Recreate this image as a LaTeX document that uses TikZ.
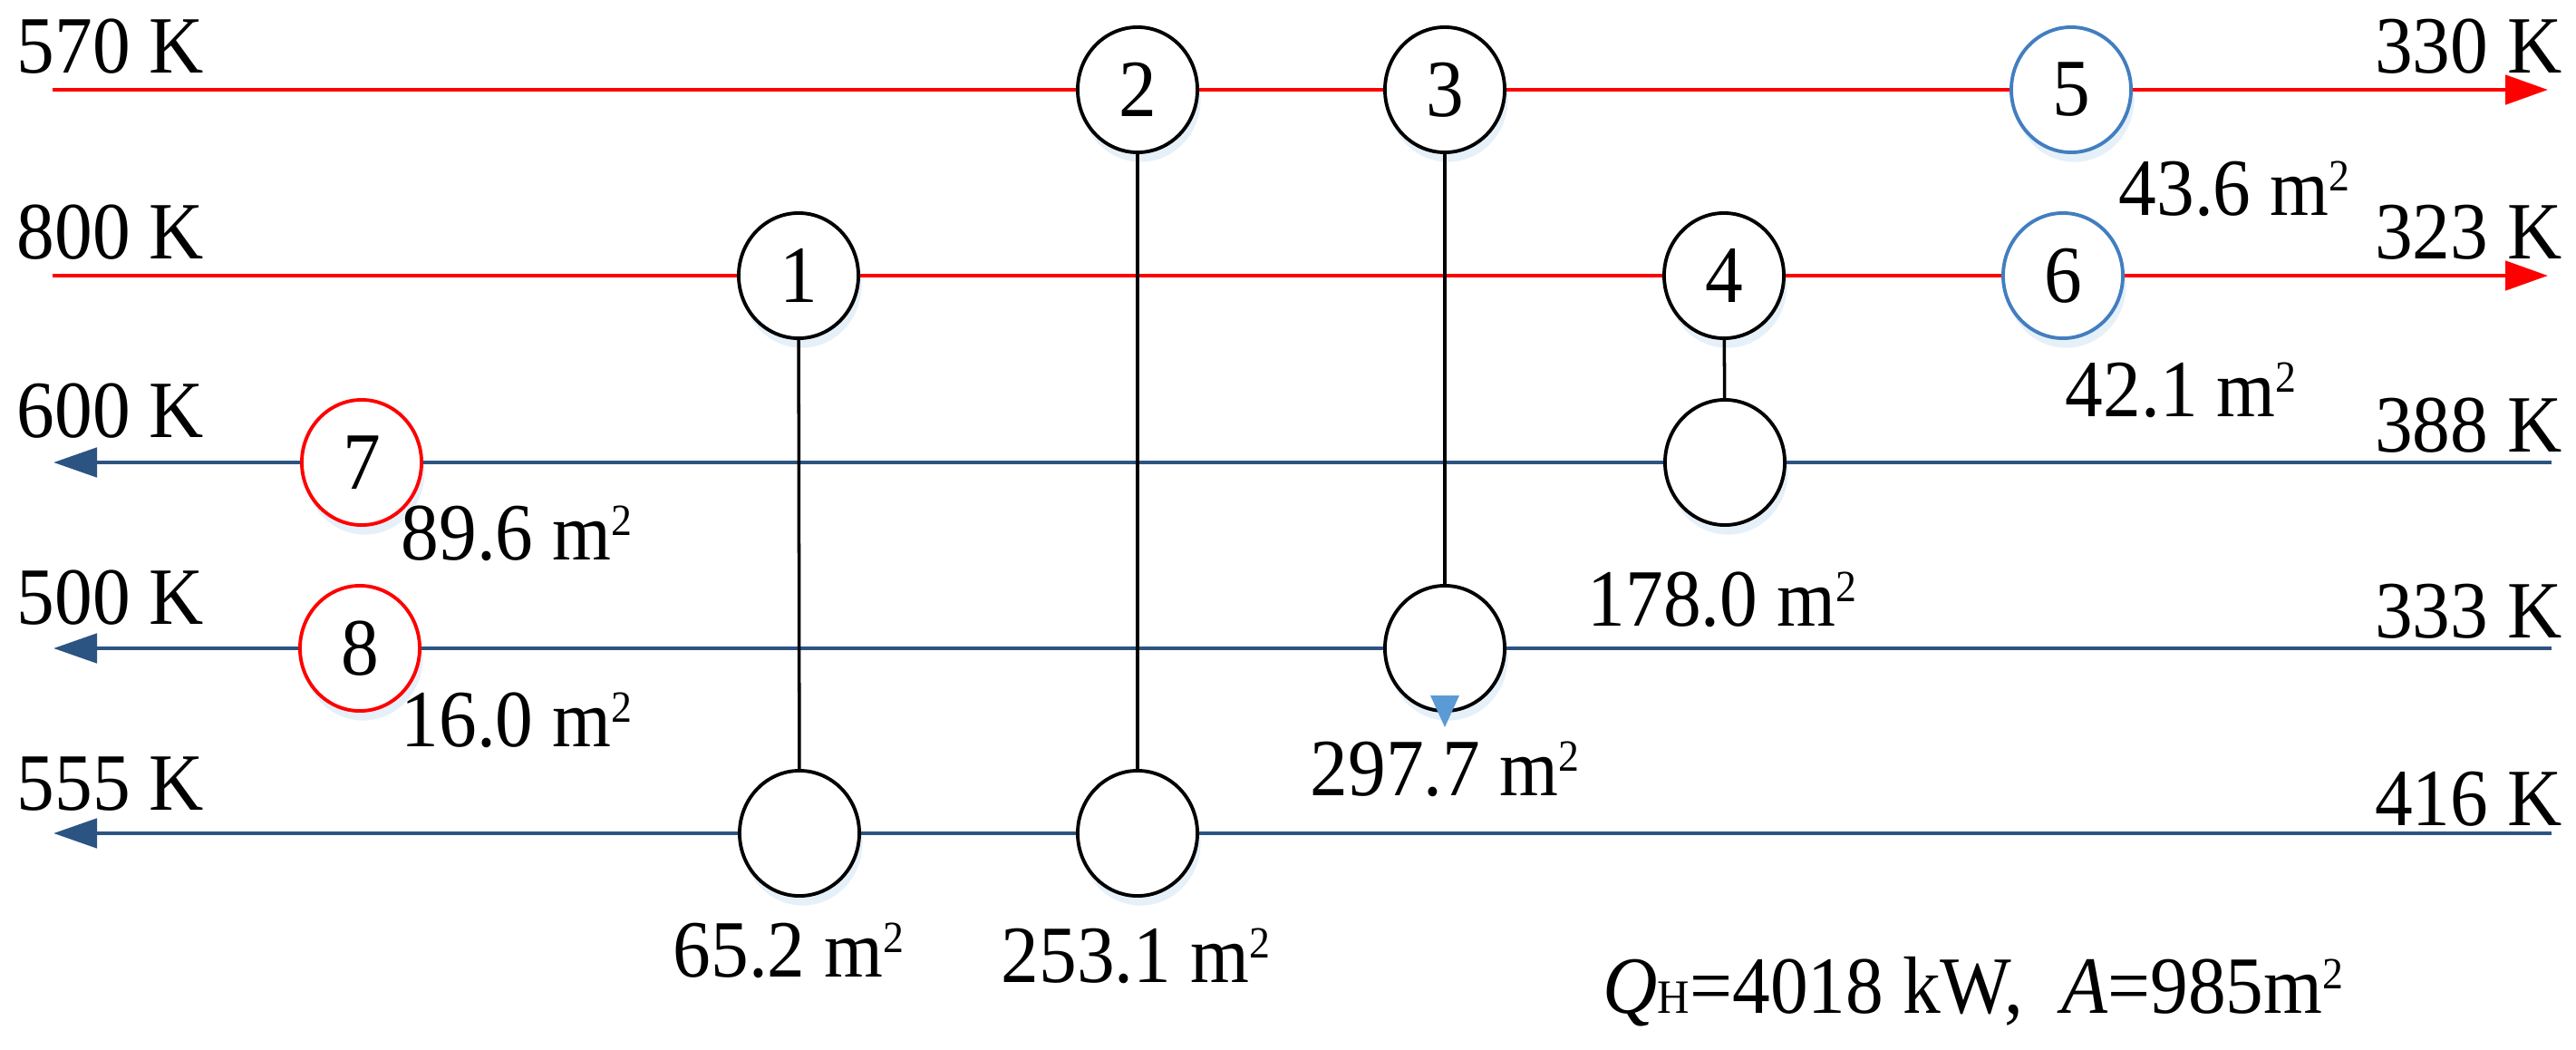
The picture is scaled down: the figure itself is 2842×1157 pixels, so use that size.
\documentclass[tikz,border=0pt]{standalone}
\usepackage{fontspec}
\setmainfont{Liberation Serif}[FakeStretch=0.93]
\usetikzlibrary{arrows.meta,shapes.geometric,shadows}
\definecolor{hotred}{RGB}{255,0,0}
\definecolor{coldblue}{RGB}{44,84,130}
\definecolor{utilblue}{RGB}{66,126,192}
\definecolor{tipblue}{RGB}{91,155,213}
\newcommand{\msq}{m\raisebox{7.5pt}{\fontsize{14}{14}\selectfont 2}}
\tikzset{
  txt/.style={font=\fontsize{25.5}{30}\selectfont, inner sep=0pt},
  hx/.style={ellipse, draw=black, line width=1.1pt, fill=white, inner sep=0pt,
    minimum width=1.32cm, minimum height=1.38cm, font=\fontsize{25.5}{30}\selectfont,
    drop shadow={shadow xshift=1pt, shadow yshift=-3pt, opacity=0.3, fill=tipblue!50}},
  heater/.style={hx, draw=hotred},
  cooler/.style={hx, draw=utilblue},
  hotline/.style={draw=hotred, line width=1.4pt, -{Triangle[length=0.47cm,width=0.32cm]}},
  coldline/.style={draw=coldblue, line width=1.4pt, -{Triangle[length=0.48cm,width=0.32cm]}},
  link/.style={draw=black, line width=1pt}
}
\begin{document}
\begin{tikzpicture}[x=0.01cm,y=-0.01cm]
  \useasboundingbox (0,0) rectangle (2842,1157);
  % stream ends
  \coordinate (h1in) at (58,99);   \coordinate (h1out) at (2811,99);
  \coordinate (h2in) at (58,304);  \coordinate (h2out) at (2811,304);
  \coordinate (c1in) at (2815,510); \coordinate (c1out) at (59,510);
  \coordinate (c2in) at (2815,715); \coordinate (c2out) at (59,715);
  \coordinate (c3in) at (2815,919); \coordinate (c3out) at (59,919);
  % exchangers, hot side
  \node[hx] (e1) at (881,304) {1};
  \node[hx] (e2) at (1255,99) {2};
  \node[hx] (e3) at (1594,99) {3};
  \node[hx] (e4) at (1902,304) {4};
  \node[cooler] (e5) at (2285,99) {5};
  \node[cooler] (e6) at (2276,304) {6};
  \node[heater] (e7) at (399,510) {7};
  \node[heater] (e8) at (397,715) {8};
  % exchangers, cold side
  \node[hx] (e4c) at (1903,510) {};
  \node[hx] (e3c) at (1594,715) {};
  \node[hx] (e1c) at (882,919) {};
  \node[hx] (e2c) at (1255,919) {};
  % streams
  \draw[hotline] (h1in) -- (e2) -- (e3) -- (e5) -- (h1out);
  \draw[hotline] (h2in) -- (e1) -- (e4) -- (e6) -- (h2out);
  \draw[coldline] (c1in) -- (e4c) -- (e7) -- (c1out);
  \draw[coldline] (c2in) -- (e3c) -- (e8) -- (c2out);
  \draw[coldline] (c3in) -- (e2c) -- (e1c) -- (c3out);
  % matches
  \draw[link] (e1) -- (e1c);
  \draw[link] (e2) -- (e2c);
  \draw[link] (e3) -- (e3c);
  \draw[link] (e4) -- (e4c);
  \fill[tipblue] (1578,767) -- (1610,767) -- (1594,802) -- cycle;
  % temperatures
  \node[txt,anchor=base west] (t570) at (18,80) {570 K};
  \node[txt,anchor=base west] (t800) at (18,285) {800 K};
  \node[txt,anchor=base west] (t600) at (18,482) {600 K};
  \node[txt,anchor=base west] (t500) at (18,688) {500 K};
  \node[txt,anchor=base west] (t555) at (18,893) {555 K};
  \node[txt,anchor=base east] (t330) at (2827,80) {330 K};
  \node[txt,anchor=base east] (t323) at (2827,285) {323 K};
  \node[txt,anchor=base east] (t388) at (2827,498) {388 K};
  \node[txt,anchor=base east] (t333) at (2827,703) {333 K};
  \node[txt,anchor=base east] (t416) at (2827,910) {416 K};
  % areas
  \node[txt,anchor=base west] (a5) at (2337,237) {43.6 \msq};
  \node[txt,anchor=base east] (a6) at (2534,459) {42.1 \msq};
  \node[txt,anchor=base west] (a7) at (442,617) {89.6 \msq};
  \node[txt,anchor=base west] (a8) at (442,823) {16.0 \msq};
  \node[txt,anchor=base] (a4) at (1900,690) {178.0 \msq};
  \node[txt,anchor=base west] (a3) at (1445,877) {297.7 \msq};
  \node[txt,anchor=base west] (a1) at (742,1077) {65.2 \msq};
  \node[txt,anchor=base west] (a2) at (1104,1083) {253.1 \msq};
  \node[txt,anchor=base west] (total) at (1768,1117)
    {{\itshape Q}{\fontsize{15}{15}\selectfont H}=4018 kW,\ \ {\itshape A}=985\msq};
\end{tikzpicture}
\end{document}
